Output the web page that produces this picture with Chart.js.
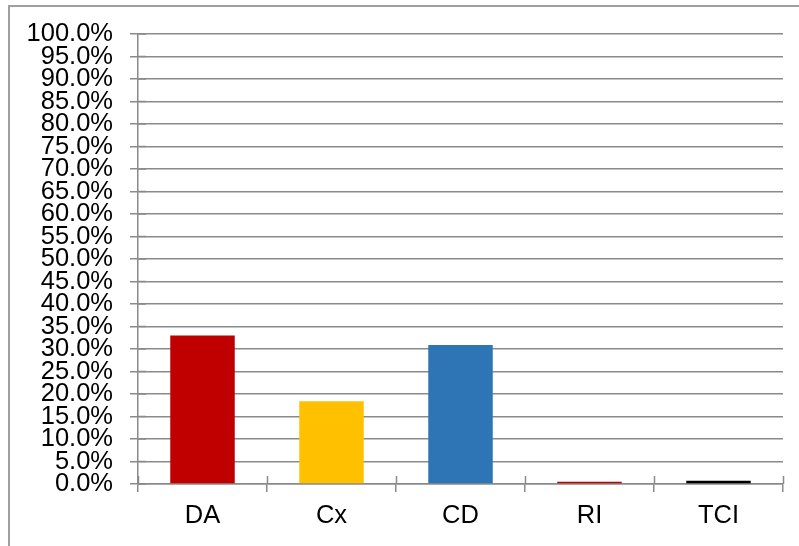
<!DOCTYPE html>
<html>
<head>
<meta charset="utf-8">
<script src="https://cdn.jsdelivr.net/npm/chart.js@4/dist/chart.umd.min.js"></script>
<style>
  html, body { margin: 0; padding: 0; background: #fff; }
  canvas { display: block; }
</style>
</head>
<body>
<canvas id="c" width="799" height="546"></canvas>
<script>
const categories = ["DA", "Cx", "CD", "RI", "TCI"];
const values = [33.0, 18.4, 30.9, 0.5, 0.7];
const barColors = ["#C00000", "#FFC000", "#2E75B6", "#C00000", "#000000"];
const yMin = 0, yMax = 100, yStep = 5;

const frame = {
  id: 'frame',
  beforeDraw(chart) {
    const ctx = chart.ctx;
    ctx.save();
    ctx.fillStyle = '#fff';
    ctx.fillRect(0, 0, chart.width, chart.height);
    ctx.strokeStyle = '#a0a0a0';
    ctx.lineWidth = 2;
    ctx.strokeRect(9, 6, 1000, 1000);
    ctx.restore();
  },
  afterDraw(chart) {
    const x = chart.scales.x, ctx = chart.ctx;
    const y0 = x.top;
    ctx.save();
    ctx.strokeStyle = '#8a8a8a';
    ctx.lineWidth = 1.5;
    ctx.beginPath();
    for (let i = 0; i <= categories.length; i++) {
      const px = Math.round(x.getPixelForValue(i - 0.5)) + 0.5;
      ctx.moveTo(px, y0);
      ctx.lineTo(px, y0 - 8);
    }
    ctx.stroke();
    const ys = chart.scales.y;
    ctx.beginPath();
    for (let v = yMin; v <= yMax; v += yStep) {
      const py = ys.getPixelForValue(v);
      ctx.moveTo(ys.right, py);
      ctx.lineTo(ys.right + 8, py);
    }
    ctx.stroke();
    ctx.restore();
  }
};

new Chart(document.getElementById('c'), {
  type: 'bar',
  data: {
    labels: categories,
    datasets: [{
      data: values,
      backgroundColor: barColors,
      borderWidth: 0,
      barPercentage: 0.5,
      categoryPercentage: 1.0
    }]
  },
  options: {
    responsive: false,
    animation: false,
    layout: { padding: { top: 34, right: 16, bottom: 0, left: 0 } },
    plugins: { legend: { display: false }, tooltip: { enabled: false } },
    scales: {
      x: {
        offset: true,
        grid: {
          offset: true,
          drawOnChartArea: false,
          drawTicks: true,
          tickLength: 8,
          color: '#8a8a8a',
          lineWidth: 1.5
        },
        border: { color: '#8a8a8a', width: 1.5 },
        ticks: {
          color: '#000',
          padding: 9,
          font: { family: 'Liberation Sans, Arial, sans-serif', size: 25.5 }
        },
        afterFit(s) { s.height = 62; }
      },
      y: {
        min: yMin,
        max: yMax,
        grid: {
          color: '#8a8a8a',
          lineWidth: 1.5,
          tickLength: 8
        },
        border: { color: '#8a8a8a', width: 1.5 },
        ticks: {
          stepSize: yStep,
          autoSkip: false,
          color: '#000',
          padding: 17,
          font: { family: 'Liberation Sans, Arial, sans-serif', size: 25.5 },
          callback: v => v.toFixed(1) + '%'
        },
        afterFit(s) { s.width = 138; }
      }
    }
  },
  plugins: [frame]
});
</script>
</body>
</html>
